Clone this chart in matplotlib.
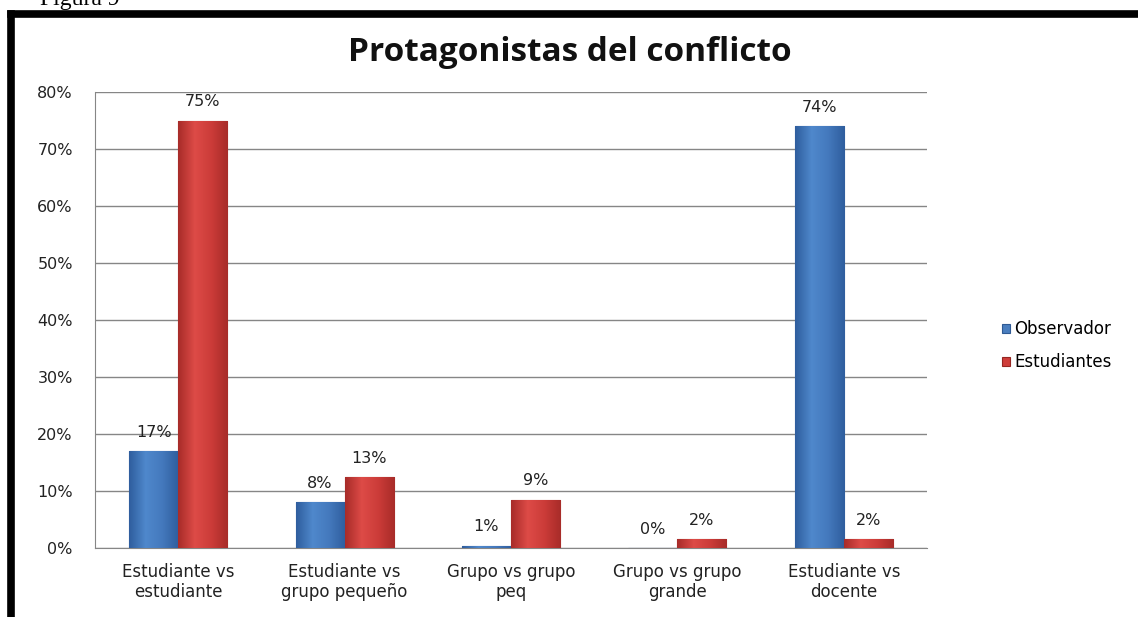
import numpy as np
import matplotlib
matplotlib.use('Agg')
import matplotlib.pyplot as plt
from matplotlib.colors import LinearSegmentedColormap
from matplotlib.lines import Line2D

categorias = ['Estudiante vs\nestudiante', 'Estudiante vs\ngrupo pequeño', 'Grupo vs grupo\npeq',
              'Grupo vs grupo\ngrande', 'Estudiante vs\ndocente']
observador = [17, 8, 0.4, 0, 74]
estudiantes = [75, 12.4, 8.5, 1.6, 1.6]
etq_obs = ['17%', '8%', '1%', '0%', '74%']
etq_est = ['75%', '13%', '9%', '2%', '2%']
yticks = [0, 10, 20, 30, 40, 50, 60, 70, 80]

plt.rcParams['font.family'] = ['DejaVu Sans']

fig = plt.figure(figsize=(11.38, 6.17), dpi=100)
ax = fig.add_axes([95/1138, 1-548/617, 832/1138, 456/617])

x = np.arange(len(categorias))
w = 0.295
b1 = ax.bar(x - w/2, observador, w, color='#4a7ebf', edgecolor='#2f5a94', linewidth=0.8,
            label='Observador', zorder=3)
b2 = ax.bar(x + w/2, estudiantes, w, color='#cf3d3a', edgecolor='#962622', linewidth=0.8,
            label='Estudiantes', zorder=3)

# sombreado tipo 3D
cm_b = LinearSegmentedColormap.from_list('b', ['#2f5e9e', '#4f88cc', '#4479bd', '#2f5e9e'])
cm_r = LinearSegmentedColormap.from_list('r', ['#a82c29', '#dd4b47', '#cc3c39', '#a82c29'])
grad = np.linspace(0, 1, 64).reshape(1, -1)
for bars, cm in ((b1, cm_b), (b2, cm_r)):
    for p in bars:
        if p.get_height() <= 0:
            continue
        x0, y0 = p.get_x(), p.get_y()
        im = ax.imshow(grad, cmap=cm, aspect='auto', zorder=3.5,
                       extent=(x0, x0 + p.get_width(), y0, y0 + p.get_height()))
        im.set_clip_path(p)

for bars, etqs in ((b1, etq_obs), (b2, etq_est)):
    for p, t in zip(bars, etqs):
        ax.text(p.get_x() + p.get_width()/2, p.get_height() + 3.3, t, ha='center', va='center',
                fontsize=11.5, color='#222222')

ax.set_xlim(-0.5, len(categorias) - 0.5)
ax.set_ylim(0, 80)
ax.set_yticks(yticks)
ax.set_yticklabels([f'{v}%' for v in yticks])
ax.set_xticks(x)
ax.set_xticklabels(categorias, fontsize=12, color='#222222', linespacing=1.15)
ax.tick_params(axis='y', length=0, pad=16, labelsize=11.5, labelcolor='#222222')
ax.tick_params(axis='x', length=0, pad=11)
ax.yaxis.grid(True, color='#868686', linewidth=1)
ax.set_axisbelow(True)
for s in ['top', 'right']:
    ax.spines[s].set_visible(False)
ax.spines['left'].set_color('#868686')
ax.spines['bottom'].set_color('#868686')

ax.legend(loc='center left', bbox_to_anchor=(1.072, 0.443), frameon=False, fontsize=12,
          handlelength=0.5, handleheight=0.5, handletextpad=0.25, labelspacing=0.9)

fig.text(0.501, 0.915, 'Protagonistas del conflicto', ha='center', va='center',
         fontsize=24, fontweight='bold', color='#111111', family='Open Sans')
fig.text(0.035, 1.0, 'Figura 9', ha='left', va='center', fontsize=17,
         family='Liberation Serif')

# marco negro
fig.add_artist(Line2D([11/1138, 11/1138], [0, 1-13.5/617], color='black', linewidth=5.5,
                      transform=fig.transFigure, solid_capstyle='projecting'))
fig.add_artist(Line2D([11/1138, 1], [1-13.5/617, 1-13.5/617], color='black', linewidth=5.5,
                      transform=fig.transFigure, solid_capstyle='projecting'))

fig.savefig('out.png', dpi=100)
